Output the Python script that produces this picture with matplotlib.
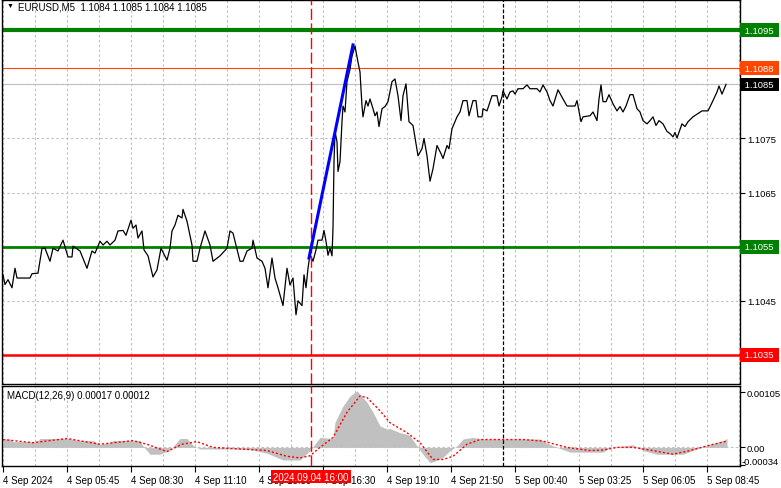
import matplotlib
matplotlib.use("Agg")
import matplotlib.pyplot as plt

plt.rcParams['font.family'] = ['Liberation Sans', 'DejaVu Sans']
plt.rcParams['font.size'] = 7

# EURUSD M5 closes (bar number, price)
price_bar = [0, 1, 2.5, 4.5, 6, 7, 13.5, 14.5, 17.5, 19.5, 21, 23.5, 25, 27.5, 30, 32.5, 34.5, 35,
             38.5, 42, 44.5, 46, 48.5, 50, 52, 53.5, 56, 57.5, 60, 61.5, 64, 65, 66.5, 67.5, 69.5,
             70.5, 72.5, 75, 77, 79, 82, 83.5, 84.5, 86, 87.5, 89.5, 90, 92, 94.5, 95, 97, 98.5,
             101, 103.5, 105, 108.5, 112, 113.5, 115, 118.5, 120, 122, 124.5, 125, 127, 129.5,
             131, 132.5, 134.5, 136, 137.5, 140, 142, 143.5, 145, 146.5, 147.5, 149.5, 150.5,
             151.5, 152.5, 153.5, 155, 156.5, 157.5, 159.5, 160.5, 161.5, 162.5, 163.5, 164.5,
             165, 165.5, 166, 167, 167.5, 168.5, 169.5, 170, 171, 172, 173.5, 174.5, 176, 177.5,
             178.5, 179.5, 180, 181.5, 182.5, 183.5, 185, 186, 187, 188, 189.5, 191, 192.5, 194.5,
             196, 197.5, 199, 200, 201.5, 202.5, 203, 205, 207.5, 209.5, 210.5, 212, 213.5, 215,
             217, 219, 220, 222, 223, 224.5, 227, 228.5, 230, 232, 233, 235, 236.5, 237.5, 239.5,
             240, 242, 244.5, 247, 248, 249.5, 250, 252, 253.5, 255, 256, 257.5, 260, 262, 263.5,
             267, 268.5, 270, 272, 273.5, 275, 277.5, 280, 282, 286, 287, 289, 290, 293.5, 295,
             297, 298, 299, 300, 301.5, 303, 305, 307, 308.5, 310, 311.5, 313.5, 315, 317, 318.5,
             320, 322, 323.5, 325, 326.5, 328, 330, 332, 333.5, 335, 336, 337, 339.5, 341, 342.5,
             345, 349.5, 352.5, 355, 357, 358, 359.5, 361.5]
price_close = [1.10498, 1.10480, 1.10489, 1.10474, 1.10510, 1.10492, 1.10492, 1.10500, 1.10501,
               1.10547, 1.10547, 1.10523, 1.10547, 1.10542, 1.10562, 1.10531, 1.10531, 1.10551,
               1.10542, 1.10510, 1.10542, 1.10538, 1.10560, 1.10553, 1.10560, 1.10553, 1.10562,
               1.10579, 1.10580, 1.10571, 1.10599, 1.10584, 1.10590, 1.10566, 1.10579, 1.10544,
               1.10533, 1.10494, 1.10507, 1.10547, 1.10525, 1.10547, 1.10579, 1.10590, 1.10608,
               1.10603, 1.10619, 1.10597, 1.10553, 1.10523, 1.10523, 1.10547, 1.10579, 1.10553,
               1.10523, 1.10533, 1.10547, 1.10579, 1.10575, 1.10523, 1.10523, 1.10542, 1.10547,
               1.10562, 1.10529, 1.10523, 1.10510, 1.10474, 1.10529, 1.10492, 1.10474, 1.10441,
               1.10510, 1.10479, 1.10492, 1.10424, 1.10450, 1.10441, 1.10498, 1.10474, 1.10510,
               1.10536, 1.10523, 1.10544, 1.10562, 1.10562, 1.10580, 1.10560, 1.10534, 1.10547,
               1.10533, 1.10584, 1.10707, 1.10763, 1.10744, 1.10689, 1.10707, 1.10781, 1.10810,
               1.10799, 1.10855, 1.10878, 1.10902, 1.10921, 1.10891, 1.10873, 1.10810, 1.10790,
               1.10820, 1.10810, 1.10823, 1.10805, 1.10792, 1.10799, 1.10772, 1.10805, 1.10809,
               1.10818, 1.10855, 1.10860, 1.10829, 1.10783, 1.10829, 1.10851, 1.10805, 1.10781,
               1.10774, 1.10718, 1.10731, 1.10750, 1.10718, 1.10671, 1.10694, 1.10737, 1.10722,
               1.10713, 1.10737, 1.10731, 1.10768, 1.10790, 1.10799, 1.10820, 1.10820, 1.10792,
               1.10820, 1.10820, 1.10790, 1.10790, 1.10805, 1.10801, 1.10829, 1.10829, 1.10810,
               1.10827, 1.10838, 1.10823, 1.10836, 1.10838, 1.10832, 1.10842, 1.10842, 1.10849,
               1.10842, 1.10842, 1.10836, 1.10849, 1.10836, 1.10820, 1.10810, 1.10840, 1.10823,
               1.10810, 1.10810, 1.10820, 1.10781, 1.10790, 1.10792, 1.10799, 1.10783, 1.10823,
               1.10849, 1.10818, 1.10818, 1.10831, 1.10814, 1.10801, 1.10809, 1.10799, 1.10810,
               1.10831, 1.10831, 1.10805, 1.10799, 1.10783, 1.10777, 1.10783, 1.10790, 1.10774,
               1.10783, 1.10777, 1.10763, 1.10759, 1.10753, 1.10761, 1.10751, 1.10777, 1.10772,
               1.10781, 1.10790, 1.10801, 1.10801, 1.10820, 1.10836, 1.10847, 1.10832, 1.10850]

# MACD(12,26,9) main histogram and signal line
macd_bar = [0, 3.5, 5, 17, 18.5, 32, 38.5, 45, 48.5, 52.5, 55, 68.5, 70, 73.5, 78.5, 83.5, 88.5,
            92, 95, 98.5, 115, 123.5, 132, 140, 148.5, 153.5, 158.5, 165, 166, 170, 173.5, 177,
            182, 185, 188.5, 192, 193.5, 198.5, 202, 203.5, 207, 210, 213.5, 216, 220, 223.5, 227,
            230, 235, 240, 268.5, 272, 277, 283.5, 300, 303.5, 315, 320, 327, 340, 347, 353.5,
            360, 362]
macd_main = [0.00016, 0.00016, 0.00011, 0.00011, 0.00017, 0.00017, 0.00013, 0.00013, 0.00006,
             0.00008, 0.00013, 0.00013, 0.00003, -0.00013, -0.00013, -0.00005, 0.00017, 0.00017,
             0.00004, -0.00003, -0.00003, -0.00004, -0.00011, -0.00024, -0.00024, -0.00006,
             0.00019, 0.00017, 0.00048, 0.00079, 0.00098, 0.00108, 0.00086, 0.00067, 0.00041,
             0.00035, 0.00036, 0.00028, 0.00025, 0.00022, 0.00003, -0.00013, -0.00029, -0.00026,
             -0.00019, -0.00006, 0.00003, 0.00016, 0.00019, 0.00016, 0.00016, 0.00008, 0.0,
             -0.00009, -0.00009, 0.0, 0.00005, -0.00006, -0.00013, -0.00013, -0.00003, 0.00006,
             0.00013, 0.00017]
sig_bar = [0, 15, 32, 48.5, 65, 72, 82, 89.5, 97, 105, 118.5, 132, 142, 148.5, 153.5, 158.5, 165,
           172, 178.5, 182, 188.5, 193.5, 202, 208.5, 215, 220, 225, 232, 238.5, 260, 270, 282,
           293.5, 300, 307, 315, 325, 335, 343.5, 352, 362]
sig_val = [0.00015, 0.00009, 0.00017, 0.00006, 0.00013, 0.00006, -0.00008, 0.00006, 0.00011, 0.0,
           -0.00003, -0.00006, -0.00017, -0.0002, -0.00016, 0.0, 0.00019, 0.00067, 0.00098,
           0.00095, 0.0007, 0.00047, 0.00028, 0.00009, -0.00023, -0.00023, -0.00017, 0.00006,
           0.00015, 0.00015, 0.00012, 0.0, -0.00006, -0.00005, 0.0, 0.0, -0.00006, -0.00013,
           -0.00006, 0.00003, 0.00012]

# time axis labels, one every 32 bars
time_tick_bars = list(range(0, 353, 32))
time_labels = ['4 Sep 2024', '4 Sep 05:45', '4 Sep 08:30', '4 Sep 11:10', '4 Sep 13:50',
               '4 Sep 16:30', '4 Sep 19:10', '4 Sep 21:50', '5 Sep 00:40', '5 Sep 03:25',
               '5 Sep 06:05', '5 Sep 08:45']

# horizontal levels drawn on the chart
levels = [1.1095, 1.1088, 1.1085, 1.1055, 1.1035]
level_colors = ['#008000', '#FF4500', '#C0C0C0', '#008000', '#FF0000']
level_widths = [3.0, 0.8, 0.8, 2.0, 1.8]
label_colors = ['#008000', '#FF4500', '#000000', '#008000', '#FF0000']
price_ticks = [1.1035, 1.1045, 1.1055, 1.1065, 1.1075, 1.1085, 1.1095]

# trend line and markers
trend_bars = [153, 175]
trend_prices = [1.10529, 1.10923]
event_bar = 154      # 2024.09.04 16:00
day_bar = 250        # 5 Sep 00:00
macd_ticks = [0.00105, 0.0]

W, H = 781, 489
fig = plt.figure(figsize=(W / 100, H / 100), dpi=100)
ax1 = fig.add_axes([2 / W, 1 - 384.5 / H, 738 / W, 383.5 / H])
ax2 = fig.add_axes([2 / W, 1 - 467.3 / H, 738 / W, 80.8 / H])

grid_kw = dict(color='#C0C0C0', lw=0.8, ls=(0, (2.2, 2.2)), zorder=0)
for ax in (ax1, ax2):
    ax.set_xlim(-0.5, 368.5)
    for b in range(0, 369, 16):
        ax.axvline(b, **grid_kw)
    ax.axvline(event_bar, color='#FF0000', lw=1.0, ls=(0, (8, 2.5)), zorder=4)
    ax.axvline(day_bar, color='black', lw=0.9, ls=(0, (3, 1.5)), zorder=4)
    for s in ax.spines.values():
        s.set_color('black')
        s.set_linewidth(1.0)
    ax.yaxis.tick_right()
    ax.tick_params(axis='y', direction='out', length=3.5, width=0.8, pad=1.5, labelsize=6.8)

# main price panel
ax1.set_ylim(1.10297, 1.11006)
for p in price_ticks:
    ax1.axhline(p, **grid_kw)
for lv, c, w in zip(levels, level_colors, level_widths):
    ax1.axhline(lv, color=c, lw=w, zorder=2)
ax1.plot(price_bar, price_close, color='black', lw=0.9, zorder=3)
ax1.plot(trend_bars, trend_prices, color='#0000FF', lw=2.2, zorder=5)

ax1.set_yticks(price_ticks)
ax1.set_yticklabels(['' if p in levels else '%.4f' % p for p in price_ticks])
ax1.set_xticks([])
for lv, c in zip(levels, label_colors):
    ax1.text(1.003, lv, ' %.4f ' % lv, transform=ax1.get_yaxis_transform(), va='center',
             ha='left', color='white', fontsize=6.8,
             bbox=dict(boxstyle='square,pad=0.25', fc=c, ec='none'))

ax1.text(0.006, 0.995, '\u25bc', transform=ax1.transAxes, va='top', ha='left', fontsize=5)
ax1.text(0.022, 0.997, 'EURUSD,M5  1.1084 1.1085 1.1084 1.1085', transform=ax1.transAxes,
         va='top', ha='left', fontsize=7)

# MACD panel
ax2.set_ylim(-0.00036, 0.00118)
ax2.axhline(0, **grid_kw)
ax2.fill_between(macd_bar, macd_main, 0, color='#C0C0C0', lw=0, zorder=1)
ax2.plot(sig_bar, sig_val, color='#FF0000', lw=1.0, ls=(0, (1.5, 1.5)), zorder=3)
ax2.set_yticks(macd_ticks + [-0.00034])
ax2.set_yticklabels(['0.00105', '0.00', ''])
ax2.text(1.002, 0.005, '-0.00034', transform=ax2.transAxes, va='bottom', ha='left', fontsize=6.8)
ax2.text(0.007, 0.88, 'MACD(12,26,9) 0.00017 0.00012', transform=ax2.transAxes,
         va='center', ha='left', fontsize=7)

ax2.set_xticks(time_tick_bars)
ax2.set_xticklabels(time_labels, ha='left')
ax2.tick_params(axis='x', direction='out', length=4, width=0.8, pad=2, labelsize=7)
ax2.text(event_bar, -0.065, '2024.09.04 16:00', transform=ax2.get_xaxis_transform(),
         ha='center', va='top', color='white', fontsize=7, zorder=10,
         bbox=dict(boxstyle='square,pad=0.2', fc='#FF0000', ec='none'))

fig.savefig('out.png', dpi=100)
